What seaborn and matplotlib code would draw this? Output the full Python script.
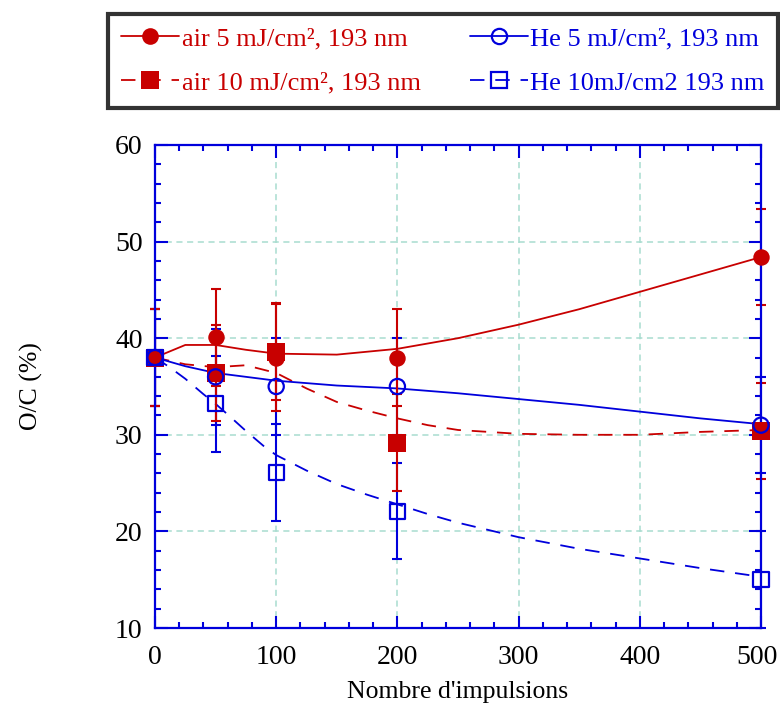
import matplotlib

matplotlib.use("Agg")
import seaborn as sns
from matplotlib import pyplot as plt
from matplotlib.lines import Line2D
from matplotlib.ticker import MultipleLocator
from matplotlib.transforms import ScaledTranslation

RED = "#c80000"
BLUE = "#0000dc"
GRID = "#a8dccf"

# measured points (pulse count -> O/C %)
pulses = [0, 50, 100, 200, 500]
air5 = [38.0, 40.1, 38.0, 38.0, 48.4]
air10 = [38.0, 36.4, 38.6, 29.2, 30.4]
he5 = [38.0, 36.0, 35.0, 35.0, 31.0]
he10 = [38.0, 33.2, 26.1, 22.1, 15.0]
air5_err = [5, 5, 5.5, 5, 5]
air10_err = [5, 5, 5, 5, 5]
he5_err = [5, 5, 5, 5, 5]
he10_err = [5, 5, 5, 5, 5]

# fitted trend curves
air5_fit_x = [0, 25, 50, 75, 100, 150, 200, 250, 300, 350, 400, 450, 500]
air5_fit = [38.0, 39.3, 39.3, 38.8, 38.4, 38.3, 38.9, 40.0, 41.4, 43.0, 44.8, 46.6, 48.4]
air10_fit_x = [0, 25, 50, 75, 100, 125, 150, 175, 200, 225, 250, 300, 350, 400, 450, 500]
air10_fit = [38.0, 37.3, 37.0, 37.2, 36.4, 34.8, 33.4, 32.5, 31.7, 31.0, 30.5, 30.1, 30.0, 30.0, 30.3, 30.5]
he5_fit_x = [0, 25, 50, 100, 150, 200, 250, 300, 350, 400, 450, 500]
he5_fit = [38.0, 37.1, 36.4, 35.6, 35.1, 34.8, 34.3, 33.7, 33.1, 32.4, 31.7, 31.1]
he10_fit_x = [0, 12, 25, 40, 50, 60, 75, 90, 100, 125, 150, 175, 200, 225, 250, 300, 350, 400, 450, 500]
he10_fit = [38.0, 37.0, 35.8, 34.2, 33.2, 32.1, 30.4, 28.8, 27.9, 26.3, 24.9, 23.8, 22.8, 21.8, 20.9,
            19.4, 18.2, 17.2, 16.2, 15.3]

labels = ["air 5 mJ/cm², 193 nm", "air 10 mJ/cm², 193 nm", "He 5 mJ/cm², 193 nm", "He 10mJ/cm2 193 nm"]

sns.set_theme(style="ticks")
plt.rcParams["font.family"] = ["Liberation Serif", "DejaVu Serif"]

fig = plt.figure(figsize=(7.8, 7.09), dpi=100)
ax = fig.add_axes([155 / 780, 1 - 628 / 709, 606 / 780, 483 / 709])

DASH = (0, (8, 6))
sns.lineplot(x=air5_fit_x, y=air5_fit, ax=ax, color=RED, lw=1.3, zorder=2)
sns.lineplot(x=air10_fit_x, y=air10_fit, ax=ax, color=RED, lw=1.3, linestyle=DASH, zorder=2)
sns.lineplot(x=he5_fit_x, y=he5_fit, ax=ax, color=BLUE, lw=1.3, zorder=2)
sns.lineplot(x=he10_fit_x, y=he10_fit, ax=ax, color=BLUE, lw=1.3, linestyle=DASH, zorder=2)

for vals, errs, col in [(he10, he10_err, BLUE), (he5, he5_err, BLUE),
                        (air10, air10_err, RED), (air5, air5_err, RED)]:
    eb = ax.errorbar(pulses, vals, yerr=errs, fmt="none", ecolor=col, elinewidth=1.5,
                     capsize=3.6, capthick=1.5, zorder=2.2)
    for art in eb.lines[1]:
        art.set_clip_on(False)

sns.scatterplot(x=pulses, y=air10, ax=ax, marker="s", s=175, color=RED, edgecolor=RED,
                linewidth=0, zorder=4, clip_on=False)
sns.scatterplot(x=pulses, y=air5, ax=ax, marker="o", s=140, color=RED, edgecolor=RED,
                linewidth=0, zorder=4, clip_on=False)
sns.scatterplot(x=pulses, y=he5, ax=ax, marker="o", s=120, facecolors="none", edgecolor=BLUE,
                linewidth=1.6, zorder=5, clip_on=False)
sns.scatterplot(x=pulses, y=he10, ax=ax, marker="s", s=120, facecolors="none", edgecolor=BLUE,
                linewidth=1.6, zorder=5, clip_on=False)

ax.set_xlim(0, 500)
ax.set_ylim(10, 60)
ax.xaxis.set_major_locator(MultipleLocator(100))
ax.xaxis.set_minor_locator(MultipleLocator(20))
ax.yaxis.set_major_locator(MultipleLocator(10))
ax.yaxis.set_minor_locator(MultipleLocator(2))
ax.grid(True, which="major", color=GRID, linestyle=(0, (4, 3)), lw=1.1, zorder=0)
ax.set_axisbelow(True)
ax.tick_params(which="both", direction="in", top=True, right=True, color=BLUE, width=1.5,
               labelsize=20, labelcolor="black")
ax.tick_params(which="major", length=9)
ax.tick_params(which="minor", length=4.5)
ax.tick_params(axis="x", which="major", pad=12)
ax.tick_params(axis="y", which="major", pad=9)
for sp in ax.spines.values():
    sp.set_color(BLUE)
    sp.set_linewidth(1.6)
    sp.set_zorder(3)

ax.set_xlabel("Nombre d'impulsions", fontsize=18.5, color="black")
ax.set_ylabel("O/C (%)", fontsize=18.5, color="black")
ax.xaxis.set_label_coords(0.5, -0.11)
ax.yaxis.set_label_coords(-0.185, 0.5)

handles = [
    Line2D([], [], color=RED, lw=1.3, marker="o", markersize=12, markeredgewidth=0),
    Line2D([], [], color=RED, lw=1.3, linestyle=DASH, marker="s", markersize=13, markeredgewidth=0),
    Line2D([], [], color=BLUE, lw=1.3, marker="o", markersize=11, markerfacecolor="none",
           markeredgewidth=1.6),
    Line2D([], [], color=BLUE, lw=1.3, linestyle=DASH, marker="s", markersize=11,
           markerfacecolor="none", markeredgewidth=1.6),
]
leg = fig.legend(handles, labels, loc="upper left", bbox_to_anchor=(108 / 780, 1 - 14 / 709),
                 ncol=2, fontsize=19, frameon=True, fancybox=False, handlelength=2.2,
                 handletextpad=0.1, columnspacing=1.85, labelspacing=0.78, borderpad=0.5,
                 borderaxespad=0)
leg.get_frame().set_edgecolor("black")
leg.get_frame().set_linewidth(3)
for txt, col in zip(leg.get_texts(), [RED, RED, BLUE, BLUE]):
    txt.set_color(col)

# nudge the "500" label a few pixels left so it stays inside the canvas
fig.canvas.draw()
for tick in ax.xaxis.get_major_ticks():
    if abs(tick.get_loc() - 500) < 1:
        lab = tick.label1
        lab.set_transform(lab.get_transform() + ScaledTranslation(-4 / 100, 0, fig.dpi_scale_trans))

fig.savefig("out.png", dpi=100)
